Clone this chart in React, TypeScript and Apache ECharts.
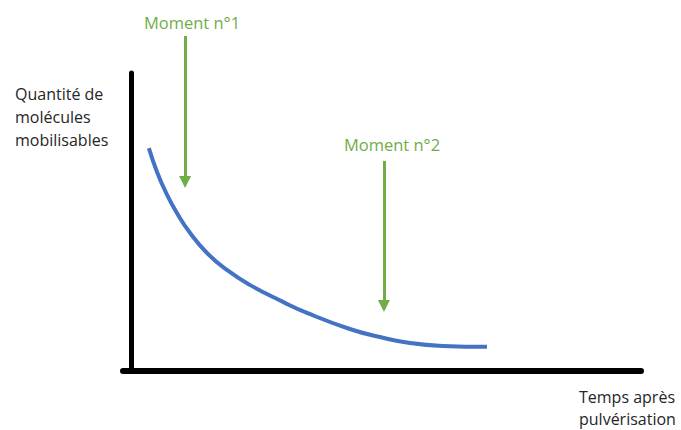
import React, { useEffect, useRef } from "react";
import * as echarts from "echarts";

// Curve: quantity of mobilisable molecules vs time after spraying (arbitrary units)
const timeValues = [0.35, 0.51, 0.69, 0.9, 1.16, 1.49, 1.88, 2.33, 2.98, 3.45, 4.29, 4.88, 5.47, 6.12, 6.98];
const quantityValues = [74.8, 66.8, 59.7, 53.0, 46.3, 39.6, 33.9, 28.9, 23.2, 19.5, 14.1, 11.4, 9.4, 8.4, 8.1];

// Moments (vertical arrows)
const momentLabels = ["Moment n°1", "Moment n°2"];
const momentX = [1.06, 4.96];
const momentTop = [112.4, 70.5];
const momentTip = [63.4, 21.8];

const yAxisTitle = "Quantité de\nmolécules\nmobilisables";
const xAxisTitleLines = ["Temps après", "pulvérisation"];

export default function App() {
  const ref = useRef<HTMLDivElement>(null);

  useEffect(() => {
    if (!ref.current) return;
    const chart = echarts.init(ref.current, null, { renderer: "svg" });
    const green = "#70AD47";
    const font = '"Open Sans", "Noto Sans", sans-serif';

    const curve = timeValues.map((t, i) => [t, quantityValues[i]]);
    const markLines = momentX.map((x, i) => [
      { coord: [x, momentTop[i]] },
      { coord: [x, momentTip[i]] },
    ]);

    const hiddenAxis = {
      show: false,
      axisLine: { show: false },
      axisTick: { show: false },
      axisLabel: { show: false },
      splitLine: { show: false },
    };

    chart.setOption({
      animation: false,
      backgroundColor: "#ffffff",
      grid: [
        { left: 123, right: 40, top: 73, bottom: 59, containLabel: false },
        { left: 123, right: 40, top: 0, bottom: 59, containLabel: false },
      ],
      xAxis: [
        {
          type: "value",
          gridIndex: 0,
          min: -0.157,
          max: 10,
          axisLine: { show: true, onZero: true, lineStyle: { color: "#000000", width: 6 } },
          axisTick: { show: false },
          axisLabel: { show: false },
          splitLine: { show: false },
        },
        { type: "value", gridIndex: 1, min: -0.157, max: 10, ...hiddenAxis },
      ],
      yAxis: [
        {
          type: "value",
          gridIndex: 0,
          min: 0,
          max: 100,
          axisLine: { show: true, onZero: true, lineStyle: { color: "#000000", width: 5 } },
          axisTick: { show: false },
          axisLabel: { show: false },
          splitLine: { show: false },
        },
        { type: "value", gridIndex: 1, min: 0, max: 124.5, ...hiddenAxis },
      ],
      series: [
        {
          type: "line",
          xAxisIndex: 0,
          yAxisIndex: 0,
          data: curve,
          showSymbol: false,
          smooth: 0.5,
          clip: false,
          silent: true,
          lineStyle: { color: "#4472C4", width: 4 },
        },
        {
          type: "line",
          xAxisIndex: 1,
          yAxisIndex: 1,
          data: [],
          silent: true,
          markLine: {
            silent: true,
            symbol: ["none", "triangle"],
            symbolSize: [12, 12],
            label: { show: false },
            lineStyle: { color: green, width: 3, type: "solid" },
            emphasis: { disabled: true },
            data: markLines,
          },
        },
      ],
      graphic: [
        {
          type: "text",
          x: 15,
          y: 82,
          style: {
            text: yAxisTitle,
            font: `16px ${font}`,
            fill: "#262626",
            lineHeight: 23,
            align: "left",
            verticalAlign: "top",
          },
        },
        {
          type: "text",
          x: 579,
          y: 397,
          style: {
            text: xAxisTitleLines[0],
            font: `16px ${font}`,
            fill: "#262626",
            lineHeight: 16,
            align: "left",
            verticalAlign: "middle",
          },
        },
        {
          type: "text",
          x: 579,
          y: 419,
          style: {
            text: xAxisTitleLines[1],
            font: `16px ${font}`,
            fill: "#262626",
            lineHeight: 16,
            align: "left",
            verticalAlign: "middle",
          },
        },
        {
          type: "text",
          x: 192,
          y: 22,
          style: {
            text: momentLabels[0],
            font: `16.5px ${font}`,
            fill: green,
            align: "center",
            verticalAlign: "middle",
          },
        },
        {
          type: "text",
          x: 392,
          y: 144,
          style: {
            text: momentLabels[1],
            font: `16.5px ${font}`,
            fill: green,
            align: "center",
            verticalAlign: "middle",
          },
        },
      ],
    });

    return () => chart.dispose();
  }, []);

  return (
    <div
      ref={ref}
      style={{ position: "absolute", left: 0, top: 0, width: 681, height: 430, background: "#fff" }}
    />
  );
}
